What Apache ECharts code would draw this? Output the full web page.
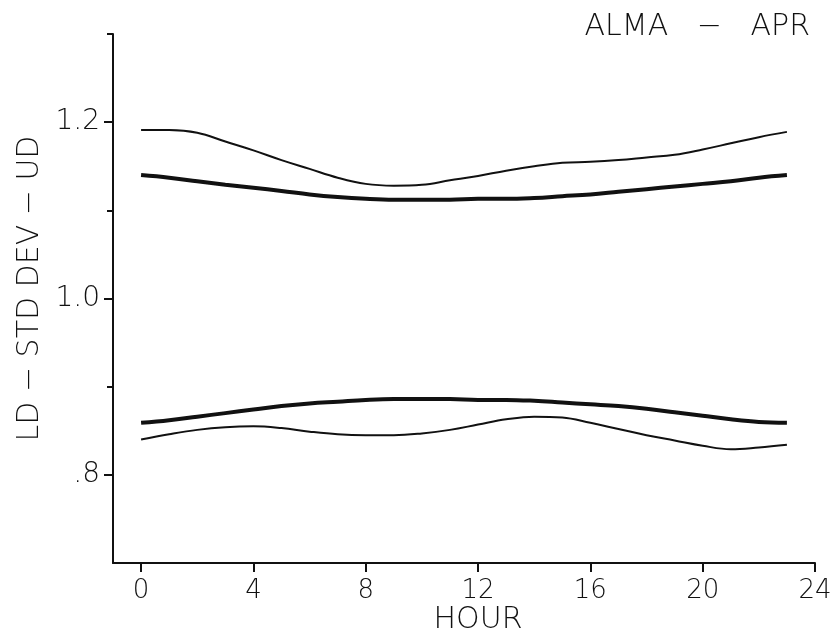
<!DOCTYPE html>
<html>
<head>
<meta charset="utf-8">
<script src="https://cdn.jsdelivr.net/npm/echarts@6/dist/echarts.min.js"></script>
<style>
html,body{margin:0;padding:0;background:#fff;}
#chart{width:835px;height:636px;}
</style>
</head>
<body>
<div id="chart"></div>
<script>
const hours = [0,1,2,3,4,5,6,7,8,9,10,11,12,13,14,15,16,17,18,19,20,21,22,23];
const upperThin = [1.191,1.191,1.188,1.178,1.168,1.157,1.147,1.137,1.130,1.128,1.129,1.134,1.139,1.145,1.150,1.154,1.155,1.157,1.160,1.163,1.169,1.176,1.183,1.189];
const upperThick = [1.140,1.137,1.133,1.129,1.1255,1.122,1.118,1.115,1.113,1.112,1.112,1.112,1.113,1.113,1.114,1.116,1.118,1.121,1.124,1.127,1.130,1.133,1.137,1.140];
const lowerThick = [0.859,0.862,0.866,0.870,0.874,0.878,0.881,0.883,0.885,0.886,0.886,0.886,0.885,0.885,0.884,0.882,0.880,0.878,0.875,0.871,0.867,0.863,0.860,0.859];
const lowerThin = [0.840,0.846,0.851,0.854,0.855,0.853,0.849,0.846,0.845,0.845,0.847,0.851,0.857,0.863,0.866,0.865,0.859,0.852,0.845,0.839,0.833,0.829,0.831,0.834];
const xTicks = [0,4,8,12,16,20,24];
const yMajorTicks = [0.8,1.0,1.2];
const yMinorTicks = [0.9,1.1,1.3];
const titleText = 'ALMA   −   APR';
const xName = 'HOUR';
const yName = 'LD − STD DEV − UD';

const FONT = 'DejaVu Sans';
const FW = 200;
const INK = '#111';
const pairs = arr => hours.map((h,i) => [h, arr[i]]);
const fmtY = v => { const s = v.toFixed(1); return s.startsWith('0') ? s.slice(1) : s; };

const chart = echarts.init(document.getElementById('chart'));
chart.setOption({
  backgroundColor: '#fff',
  animation: false,
  title: {
    text: titleText, right: 20, top: 7,
    textStyle: {fontFamily: FONT, fontWeight: FW, fontSize: 30, color: INK}
  },
  grid: {left: 113, right: 20, top: 34, bottom: 73, containLabel: false, outerBoundsMode: 'none'},
  xAxis: {
    type: 'value', min: -1, max: 24,
    name: xName, nameLocation: 'middle', nameGap: 42, nameMoveOverlap: false,
    nameTextStyle: {fontFamily: FONT, fontWeight: FW, fontSize: 30, color: INK, padding: [0,0,0,28]},
    axisLine: {onZero: false, lineStyle: {color: INK, width: 2}},
    axisTick: {customValues: xTicks, length: 9, lineStyle: {color: INK, width: 2}},
    axisLabel: {customValues: xTicks, margin: 15, fontFamily: FONT, fontWeight: FW, fontSize: 26, color: INK},
    splitLine: {show: false}
  },
  yAxis: [{
    type: 'value', min: 0.7, max: 1.3,
    name: yName, nameLocation: 'middle', nameGap: 68, nameRotate: 90, nameMoveOverlap: false,
    nameTextStyle: {fontFamily: FONT, fontWeight: FW, fontSize: 30, color: INK, padding: [0,0,0,20]},
    axisLine: {onZero: false, lineStyle: {color: INK, width: 2}},
    axisTick: {customValues: yMajorTicks, length: 9, lineStyle: {color: INK, width: 2}},
    axisLabel: {customValues: yMajorTicks, margin: 13, formatter: fmtY, fontFamily: FONT, fontWeight: FW, fontSize: 28, color: INK},
    splitLine: {show: false}
  },{
    type: 'value', min: 0.7, max: 1.3, position: 'left', offset: 0,
    axisLine: {show: false, onZero: false},
    axisTick: {customValues: yMinorTicks, length: 6, lineStyle: {color: INK, width: 2}},
    axisLabel: {show: false},
    splitLine: {show: false}
  }],
  series: [
    {type: 'line', data: pairs(upperThin), smooth: 0.4, symbol: 'none', lineStyle: {color: INK, width: 2}},
    {type: 'line', data: pairs(upperThick), smooth: 0.4, symbol: 'none', lineStyle: {color: INK, width: 4}},
    {type: 'line', data: pairs(lowerThick), smooth: 0.4, symbol: 'none', lineStyle: {color: INK, width: 4}},
    {type: 'line', data: pairs(lowerThin), smooth: 0.4, symbol: 'none', lineStyle: {color: INK, width: 2}}
  ]
});
</script>
</body>
</html>
